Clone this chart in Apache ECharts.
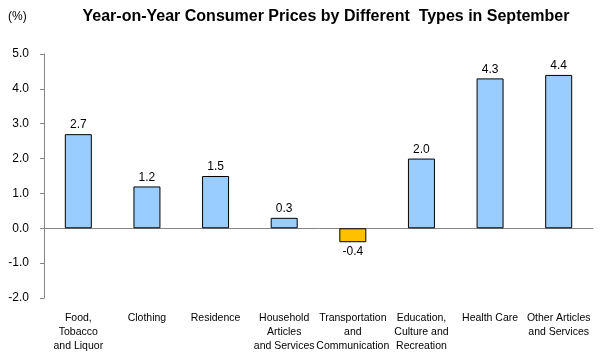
<!DOCTYPE html>
<html>
<head>
<meta charset="utf-8">
<script src="https://cdn.jsdelivr.net/npm/echarts@6/dist/echarts.min.js"></script>
<style>
  html, body { margin: 0; padding: 0; background: #fff; }
  #chart { width: 603px; height: 353px; }
</style>
</head>
<body>
<div id="chart"></div>
<script>
// 类别和数值
var categories = ['Food,\nTobacco\nand Liquor', 'Clothing', 'Residence', 'Household\nArticles\nand Services',
    'Transportation\nand\nCommunication', 'Education,\nCulture and\nRecreation', 'Health Care', 'Other Articles\nand Services'];
var values = [2.7, 1.2, 1.5, 0.3, -0.4, 2.0, 4.3, 4.4];

var chart = echarts.init(document.getElementById('chart'));
var option = {
    animation: false,
    textStyle: { fontFamily: 'Liberation Sans, Arial, sans-serif' },
    title: {
        text: 'Year-on-Year Consumer Prices by Different  Types in September',
        left: 321, top: 4, textAlign: 'center',
        textStyle: { fontSize: 16, fontWeight: 'bold', color: '#000' }
    },
    graphic: [{
        type: 'text', left: 8, top: 11,
        style: { text: '(%)', fontSize: 12, fill: '#000', fontFamily: 'Liberation Sans, Arial, sans-serif' }
    }],
    grid: { left: 44, right: 10, top: 54, bottom: 55 },
    xAxis: [{
        type: 'category',
        data: categories,
        axisLine: { onZero: true, lineStyle: { color: '#868686' } },
        axisTick: { show: false },
        axisLabel: { show: false }
    }, {
        type: 'category',
        data: categories,
        position: 'bottom',
        axisLine: { show: false, onZero: false },
        axisTick: { show: false },
        axisLabel: { color: '#000', fontSize: 10.5, lineHeight: 14, margin: 13, interval: 0 }
    }],
    yAxis: {
        type: 'value',
        min: -2, max: 5, interval: 1,
        axisLine: { show: true, lineStyle: { color: '#868686' } },
        axisTick: { show: true, length: 4, lineStyle: { color: '#868686' } },
        splitLine: { show: false },
        axisLabel: {
            color: '#000', fontSize: 12, margin: 15,
            formatter: function (v) { return v.toFixed(1); }
        }
    },
    series: [{
        type: 'bar',
        xAxisIndex: 0,
        barWidth: 27,
        data: values.map(function (v) {
            return {
                value: v,
                itemStyle: { color: v < 0 ? '#FFC000' : '#99CCFF' },
                label: { position: v < 0 ? 'bottom' : 'top' }
            };
        }),
        itemStyle: { borderColor: '#000', borderWidth: 1 },
        label: {
            show: true, color: '#000', fontSize: 12, distance: 3,
            formatter: function (p) { return p.value.toFixed(1); }
        }
    }]
};
chart.setOption(option);
</script>
</body>
</html>
